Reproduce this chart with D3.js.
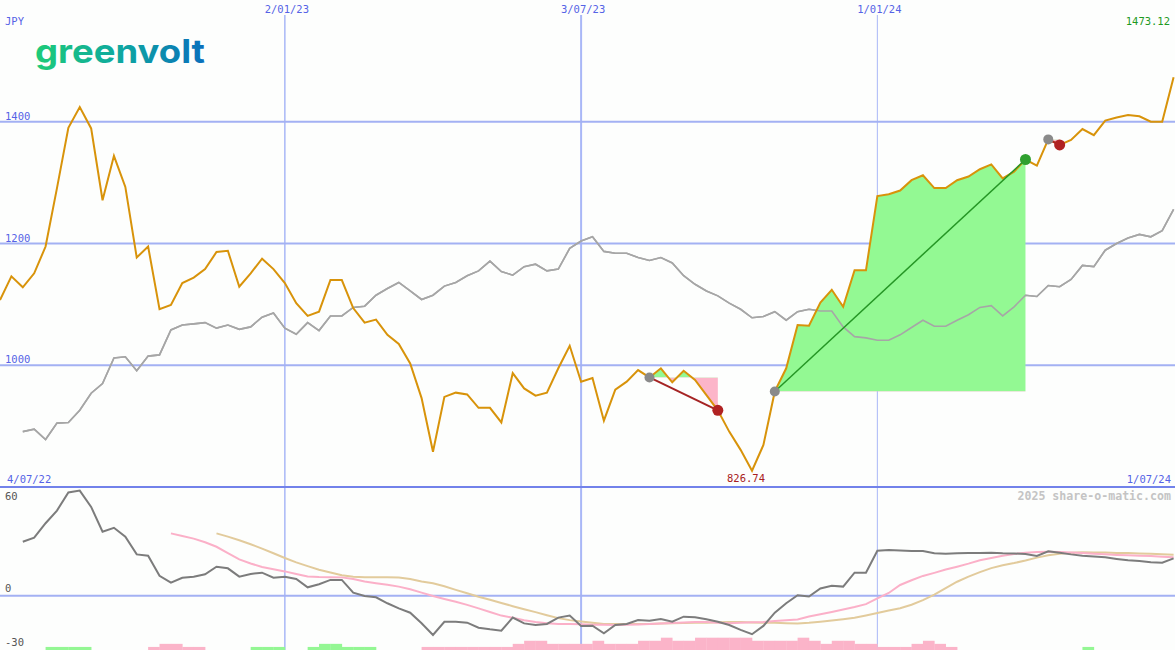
<!DOCTYPE html>
<html>
<head>
<meta charset="utf-8">
<script src="https://cdn.jsdelivr.net/npm/d3@7"></script>
<style>
  html, body { margin: 0; padding: 0; background: #fdfefd; }
  svg { display: block; }
  text { font-family: "DejaVu Sans Mono", monospace; }
</style>
</head>
<body>
<svg id="chart" width="1175" height="650"></svg>
<script>
// ---------------- DATA ----------------
const firstWeek = "2022-07-11";
const axisStart = "2022-07-04";
const axisEnd = "2024-07-01";
const gridDates = ["2023-01-02", "2023-07-03", "2024-01-01"];
const currency = "JPY";
const priceTicks = [1000, 1200, 1400];
const lowerTicks = [60, 0, -30];
const brand = "greenvolt";
const watermark = "2025 share-o-matic.com";

const price = [
  1107, 1146, 1128, 1151, 1195, 1291, 1390, 1424, 1389, 1271,
  1344, 1293, 1177, 1195, 1092, 1099, 1135, 1144, 1158, 1186,
  1188, 1129, 1151, 1175, 1158, 1135, 1102, 1081, 1088, 1140,
  1140, 1094, 1070, 1075, 1050, 1035, 1003, 946, 858, 948,
  955, 952, 930, 930, 906, 987, 962, 950, 955, 995,
  1032, 973, 979, 909, 960, 973, 992, 980, 995, 972,
  991, 976, 951, 926, 891, 861, 826.74, 869, 957, 995,
  1066, 1065, 1103, 1124, 1096, 1156, 1156, 1278, 1281, 1287,
  1304, 1312, 1291, 1291, 1304, 1310, 1322, 1330, 1307, 1318,
  1338, 1328, 1371, 1362, 1370, 1388, 1378, 1402, 1407, 1411,
  1409, 1400, 1400, 1473.12
];

const relative = [
  null, null, 891, 895, 878, 905, 906, 926, 954, 970,
  1012, 1014, 991, 1015, 1017, 1058, 1066, 1068, 1070, 1061,
  1066, 1059, 1063, 1079, 1086, 1061, 1051, 1070, 1057, 1081,
  1081, 1095, 1097, 1115, 1126, 1136, 1122, 1108, 1115, 1130,
  1136, 1147, 1155, 1171, 1154, 1148, 1162, 1166, 1155, 1158,
  1192, 1204, 1211, 1187, 1184, 1184, 1177, 1172, 1177, 1168,
  1147, 1133, 1122, 1114, 1102, 1092, 1078, 1080, 1088, 1074,
  1088, 1092, 1089, 1089, 1063, 1047, 1045, 1041, 1041, 1050,
  1062, 1074, 1064, 1064, 1074, 1083, 1095, 1098, 1081, 1096,
  1115, 1113, 1131, 1129, 1141, 1164, 1162, 1189, 1200, 1209,
  1215, 1211, 1221, 1256
];

const momentum = [
  null, null, 29.8, 32, 40, 47, 57, 58, 49, 35.3,
  37.5, 32.6, 22.8, 22.1, 11, 7.2, 9.9, 10.5, 11.8, 16,
  15.1, 10.5, 12, 12.7, 9.9, 10.5, 9.2, 4.6, 6.3, 8.7,
  8.7, 1.7, -0.2, -0.9, -4.2, -7, -9.4, -15.2, -21.7, -14.4,
  -14.4, -14.9, -17.7, -18.6, -19.3, -12.1, -15.3, -16.2, -15.6, -12.1,
  -11, -16.7, -16.6, -20.8, -16.2, -15.6, -13.4, -13.8, -12.9, -14.4,
  -11.6, -11.9, -13, -14.4, -16.2, -18.9, -21.3, -16.7, -9.4, -4.2,
  0.2, -0.5, 4, 5.5, 5, 12.7, 12.7, 24.8, 25.2, 24.9,
  24.7, 24.6, 23.4, 23.2, 23.4, 23.5, 23.6, 23.7, 23.4, 23.3,
  23, 21.9, 24.5, 23.7, 22.8, 22.1, 21.6, 21.2, 20.3, 19.5,
  19.2, 18.4, 18.2, 20.6
];

const fastSignal = [
  null, null, null, null, null, null, null, null, null, null,
  null, null, null, null, null, 34.4, 33, 31.5, 29.5, 27,
  23.5, 20, 17.8, 15.8, 14.6, 13.4, 12, 10.6, 10.3, 10.2,
  10.1, 9.2, 7.8, 6.9, 6, 5, 3.5, 1.7, -0.2, -1.8,
  -3.4, -5.1, -7, -9, -11, -12.2, -13.6, -14.6, -15.2, -15.6,
  -15.7, -15.8, -16, -16.1, -16.2, -16.1, -15.9, -15.6, -15.3, -15.1,
  -14.8, -14.5, -14.6, -14.9, -15.2, -15, -14.7, -14.5, -14, -13.6,
  -13.1, -11.5, -10.3, -9, -7.6, -6.3, -4.7, -1.5, 1.5, 5.9,
  8.5, 10.9, 12.6, 14.4, 16, 17.7, 19.6, 20.8, 22, 23,
  23.7, 24.1, 24.3, 24.1, 23.8, 23.5, 23.1, 22.8, 22.5, 22.3,
  22.1, 21.9, 21.5, 21.2
];

const slowSignal = [
  null, null, null, null, null, null, null, null, null, null,
  null, null, null, null, null, null, null, null, null, 34.4,
  32.6, 30.6, 28.4, 26, 23.4, 20.8, 18.4, 16.3, 14.3, 12.8,
  11.3, 10.4, 10.2, 10.1, 10.1, 10, 9.2, 7.8, 6.8, 5.2,
  3.2, 1.3, -0.6, -2.3, -4, -5.8, -7.5, -9.1, -10.8, -12.4,
  -13.5, -14.3, -15, -15.6, -15.6, -15.6, -15.6, -15.6, -15.3, -15.2,
  -15.1, -15, -14.9, -14.7, -14.5, -14.6, -14.8, -14.9, -15, -15.2,
  -15.4, -15, -14.4, -13.7, -13, -12.2, -10.9, -9.6, -8.2, -6.9,
  -5, -2.5, 0.6, 4.2, 7.7, 10.5, 13, 15.2, 16.8, 18,
  19.4, 21, 22.3, 23.2, 23.7, 24, 23.9, 23.8, 23.6, 23.5,
  23.3, 23.2, 22.9, 22.6
];

const histogram = [
  0, 0, 0, 0, 1, 1, 1, 1, 0, 0,
  0, 0, 0, -1, -2, -2, -1, -1, 0, 0,
  0, 0, 1, 1, 1, 0, 0, 1, 2, 2,
  1, 1, 1, 0, 0, 0, 0, -1, -1, -1,
  -1, -1, -1, -1, -1, -2, -3, -3, -2, -2,
  -2, -2, -3, -2, -2, -2, -3, -3, -4, -3,
  -3, -4, -4, -4, -4, -4, -3, -3, -3, -3,
  -4, -3, -2, -3, -3, -2, -2, -1, -1, -1,
  -2, -3, -2, -1, 0, 0, 0, 0, 0, 0,
  0, 0, 0, 0, 0, 1, 0, 0, 0, 0,
  0, 0, 0, 0
];

const tradeStart = [57, 68, 92];
const tradeEnd = [63, 90, 93];

// ---------------- DRAWING ----------------
const W = 1175, H = 650;
const svg = d3.select("#chart");
const parse = d3.utcParse("%Y-%m-%d");
const fmt = d3.utcFormat("%-d/%m/%y");

const dates = price.map((_, i) => d3.utcWeek.offset(parse(firstWeek), i));
const x = d3.scaleUtc()
  .domain([parse(firstWeek), parse(axisEnd)])
  .range([0, 1173.6]);
const y = d3.scaleLinear().domain([800, 1600]).range([487, 0]);
const y2 = d3.scaleLinear().domain([-30, 60]).range([650, 487]);
const hh = d3.scaleLinear().domain([0, 4]).range([0, 12.3]);

const gridCol = "#a3b1f3";
const labelCol = "#5563e6";

svg.append("rect").attr("width", W).attr("height", H).attr("fill", "#fdfefd");

// logo
const defs = svg.append("defs");
const grad = defs.append("linearGradient").attr("id", "logoGrad")
  .attr("x1", "0%").attr("x2", "100%").attr("y1", "0%").attr("y2", "0%");
grad.append("stop").attr("offset", "0%").attr("stop-color", "#1ecb78");
grad.append("stop").attr("offset", "50%").attr("stop-color", "#0ea8a0");
grad.append("stop").attr("offset", "100%").attr("stop-color", "#0a6fbc");

svg.append("text")
  .attr("x", 35).attr("y", 63)
  .attr("font-family", "Inter, 'Noto Sans', sans-serif")
  .style("font-family", "Inter, 'Noto Sans', sans-serif")
  .attr("font-size", 33).attr("font-weight", 700)
  .attr("textLength", 170).attr("lengthAdjust", "spacingAndGlyphs")
  .attr("fill", "url(#logoGrad)")
  .text(brand);

// vertical grid lines
const vWidths = [1.5, 2, 1];
gridDates.forEach((d, k) => {
  const gx = x(parse(d));
  svg.append("line").attr("x1", gx).attr("x2", gx).attr("y1", 15).attr("y2", H)
    .attr("stroke", "#a9b7f7").attr("stroke-width", vWidths[k]);
  svg.append("text").attr("x", gx + 2).attr("y", 13).attr("text-anchor", "middle")
    .attr("font-size", 10.5).attr("fill", labelCol).text(fmt(parse(d)));
});

// horizontal price grid
priceTicks.forEach(t => {
  svg.append("line").attr("x1", 0).attr("x2", W).attr("y1", y(t)).attr("y2", y(t))
    .attr("stroke", gridCol).attr("stroke-width", 2);
  svg.append("text").attr("x", 5).attr("y", y(t) - 2)
    .attr("font-size", 10.5).attr("fill", labelCol).text(t);
});
svg.append("text").attr("x", 5).attr("y", 25).attr("font-size", 10.5)
  .attr("fill", labelCol).text(currency);

// lower panel zero line
svg.append("line").attr("x1", 0).attr("x2", W).attr("y1", y2(0)).attr("y2", y2(0))
  .attr("stroke", gridCol).attr("stroke-width", 2);

// panel separator
svg.append("line").attr("x1", 0).attr("x2", W).attr("y1", 487).attr("y2", 487)
  .attr("stroke", "#7282ea").attr("stroke-width", 2);

// lower panel labels
svg.append("text").attr("x", 5).attr("y", 500).attr("font-size", 10.5).attr("fill", "#555").text(lowerTicks[0]);
svg.append("text").attr("x", 5).attr("y", y2(0) - 4).attr("font-size", 10.5).attr("fill", "#555").text(lowerTicks[1]);
svg.append("text").attr("x", 5).attr("y", 646).attr("font-size", 10.5).attr("fill", "#555").text(lowerTicks[2]);

// corner date labels
svg.append("text").attr("x", 7).attr("y", 483).attr("font-size", 10.5)
  .attr("fill", labelCol).text(fmt(parse(axisStart)));
svg.append("text").attr("x", 1171).attr("y", 483).attr("text-anchor", "end")
  .attr("font-size", 10.5).attr("fill", labelCol).text(fmt(parse(axisEnd)));
svg.append("text").attr("x", 1171).attr("y", 500).attr("text-anchor", "end")
  .attr("font-size", 11.6).attr("font-weight", "bold").attr("fill", "#c4c4c4").text(watermark);

// histogram
const step = x(dates[1]) - x(dates[0]);
svg.append("g").selectAll("rect").data(histogram.map((v, i) => ({ v, i })).filter(d => d.v !== 0))
  .join("rect")
  .attr("x", d => x(dates[d.i]))
  .attr("width", step + 0.3)
  .attr("y", d => H - hh(Math.abs(d.v)))
  .attr("height", d => hh(Math.abs(d.v)))
  .attr("fill", d => d.v > 0 ? "#94f794" : "#fbb4c9");

// relative (gray) line
const line = (arr, ys) => d3.line()
  .defined(d => d != null && arr[d] != null)
  .x(i => x(dates[i]))
  .y(i => ys(arr[i]));
const idx = d3.range(price.length);

svg.append("path").attr("d", line(relative, y)(idx))
  .attr("fill", "none").attr("stroke", "#a6a6a6").attr("stroke-width", 1.6);

// trade areas
const clipAbove = [], clipBelow = [];
tradeStart.forEach((s, k) => {
  const e = tradeEnd[k];
  const entry = price[s];
  const ids = d3.range(s, e + 1);
  const area = d3.area().x(i => x(dates[i])).y0(y(entry)).y1(i => y(price[i]));
  const ca = defs.append("clipPath").attr("id", "ca" + k);
  ca.append("rect").attr("x", 0).attr("y", 0).attr("width", W).attr("height", y(entry));
  const cb = defs.append("clipPath").attr("id", "cb" + k);
  cb.append("rect").attr("x", 0).attr("y", y(entry)).attr("width", W).attr("height", H - y(entry));
  svg.append("path").attr("d", area(ids)).attr("fill", "#93f993").attr("clip-path", `url(#ca${k})`);
  svg.append("path").attr("d", area(ids)).attr("fill", "#fcb5c9").attr("clip-path", `url(#cb${k})`);
});

// re-draw gray line portion above green area (gray visible over fill)
svg.append("path").attr("d", line(relative, y)(idx))
  .attr("fill", "none").attr("stroke", "#a6a6a6").attr("stroke-width", 1.6);

// price line
svg.append("path").attr("d", line(price, y)(idx))
  .attr("fill", "none").attr("stroke", "#d8930a").attr("stroke-width", 2)
  .attr("stroke-linejoin", "miter");

// trade lines and markers
tradeStart.forEach((s, k) => {
  const e = tradeEnd[k];
  const win = price[e] > price[s];
  svg.append("line")
    .attr("x1", x(dates[s])).attr("y1", y(price[s]))
    .attr("x2", x(dates[e])).attr("y2", y(price[e]))
    .attr("stroke", win ? "#259625" : "#a52424").attr("stroke-width", win ? 1.5 : 2);
});
tradeStart.forEach((s, k) => {
  const e = tradeEnd[k];
  const win = price[e] > price[s];
  svg.append("circle").attr("cx", x(dates[s])).attr("cy", y(price[s])).attr("r", 5)
    .attr("fill", "#8a8a8a");
  svg.append("circle").attr("cx", x(dates[e])).attr("cy", y(price[e])).attr("r", 5.5)
    .attr("fill", win ? "#2fa02f" : "#b02222");
});

// min / last labels
const minI = d3.minIndex(price);
svg.append("text").attr("x", x(dates[minI]) - 6).attr("y", 482).attr("text-anchor", "middle")
  .attr("font-size", 10.5).attr("fill", "#a82020").text(d3.format(".2f")(price[minI]));
svg.append("text").attr("x", 1170).attr("y", 25).attr("text-anchor", "end")
  .attr("font-size", 10.5).attr("fill", "#1f9a1f").text(d3.format(".2f")(price[price.length - 1]));

// lower panel lines
svg.append("path").attr("d", line(slowSignal, y2)(idx))
  .attr("fill", "none").attr("stroke", "#e2cb9c").attr("stroke-width", 2);
svg.append("path").attr("d", line(fastSignal, y2)(idx))
  .attr("fill", "none").attr("stroke", "#fbb0c8").attr("stroke-width", 2);
svg.append("path").attr("d", line(momentum, y2)(idx))
  .attr("fill", "none").attr("stroke", "#7c7c7c").attr("stroke-width", 2);
</script>
</body>
</html>
